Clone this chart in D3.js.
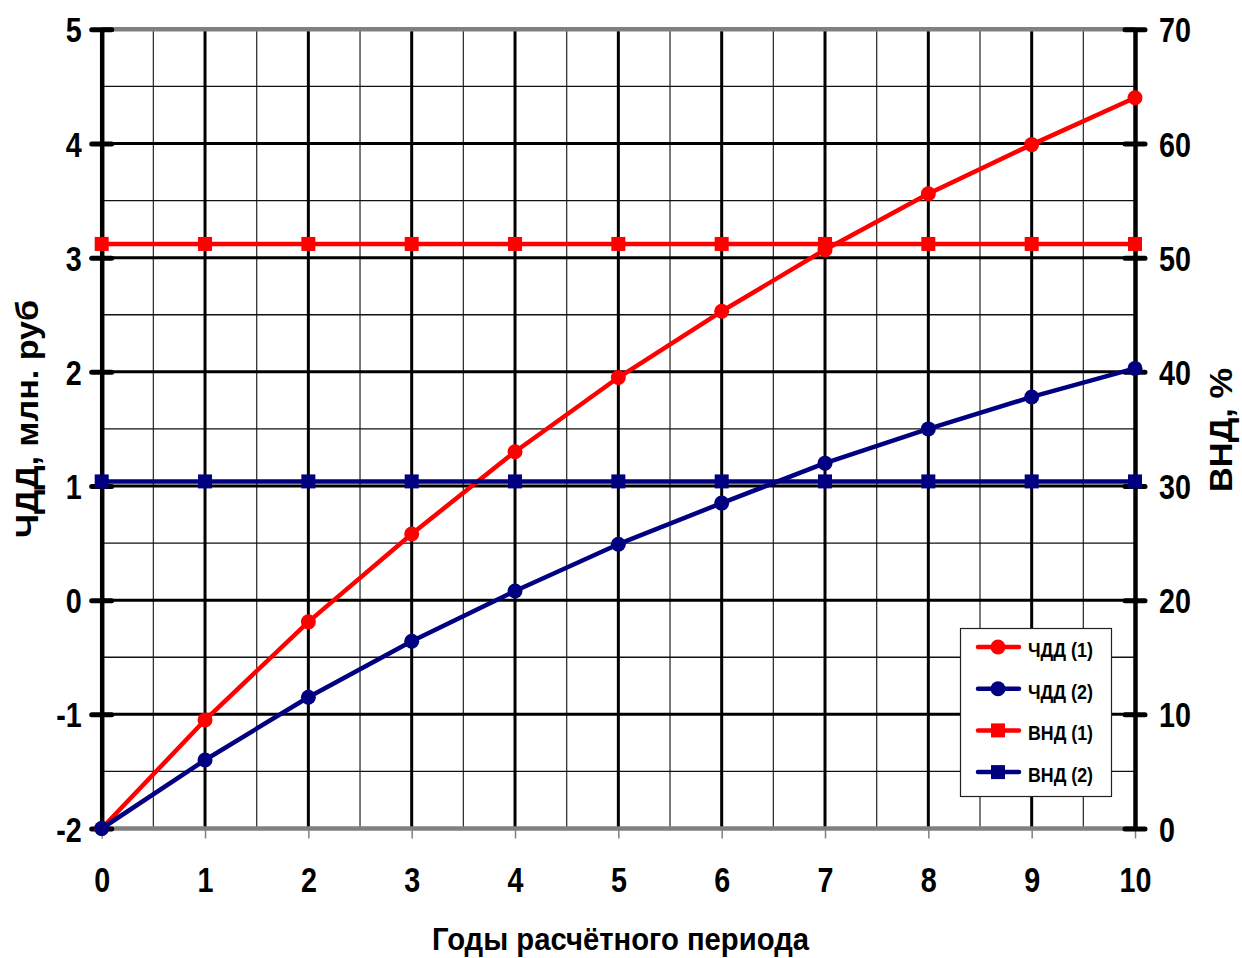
<!DOCTYPE html>
<html>
<head>
<meta charset="utf-8">
<script src="https://cdn.jsdelivr.net/npm/d3@7"></script>
<style>
  html, body { margin: 0; padding: 0; background: #fff; }
  svg, svg text { font-family: Arial, 'Liberation Sans', sans-serif !important; }
</style>
</head>
<body>
<svg id="chart" width="1242" height="958"></svg>
<script>
// Years of the calculation period
const years = [0, 1, 2, 3, 4, 5, 6, 7, 8, 9, 10];
// Net present value, mln rub (left axis)
const npv1 = [-2, -1.05, -0.19, 0.58, 1.30, 1.95, 2.53, 3.07, 3.56, 3.99, 4.40];
const npv2 = [-2, -1.40, -0.85, -0.36, 0.08, 0.49, 0.85, 1.20, 1.50, 1.78, 2.03];
// Internal rate of return, % (right axis)
const irr1 = [51.2, 51.2, 51.2, 51.2, 51.2, 51.2, 51.2, 51.2, 51.2, 51.2, 51.2];
const irr2 = [30.4, 30.4, 30.4, 30.4, 30.4, 30.4, 30.4, 30.4, 30.4, 30.4, 30.4];
// Axis ticks
const leftTicks = [-2, -1, 0, 1, 2, 3, 4, 5];
const rightTicks = [0, 10, 20, 30, 40, 50, 60, 70];
const seriesNames = ["ЧДД (1)", "ЧДД (2)", "ВНД (1)", "ВНД (2)"];

const RED = "#ff0000", NAVY = "#000080";

const svg = d3.select("#chart");
const x = d3.scaleLinear().domain([0, 10]).range([101.7, 1135]);
const yL = d3.scaleLinear().domain([-2, 5]).range([828.5, 29.3]);
const yR = d3.scaleLinear().domain([0, 70]).range([828.5, 29.3]);
const plain = d => String(d);

// narrow the bold tick numerals horizontally
function condense(sel, k) {
  sel.each(function () {
    const w = this.getComputedTextLength();
    d3.select(this).attr("textLength", w * k).attr("lengthAdjust", "spacingAndGlyphs");
  });
}

const grid = svg.append("g");
// minor grid (half steps)
d3.range(0.5, 10, 1).forEach(v => {
  grid.append("line").attr("x1", x(v)).attr("x2", x(v))
    .attr("y1", yL(5)).attr("y2", yL(-2))
    .attr("stroke", "#333").attr("stroke-width", 1.3);
});
d3.range(-1.5, 5, 1).forEach(v => {
  grid.append("line").attr("x1", x(0)).attr("x2", x(10))
    .attr("y1", yL(v)).attr("y2", yL(v))
    .attr("stroke", "#111").attr("stroke-width", 1.3);
});
// major grid
d3.range(1, 10, 1).forEach(v => {
  grid.append("line").attr("x1", x(v)).attr("x2", x(v))
    .attr("y1", yL(5)).attr("y2", yL(-2))
    .attr("stroke", "#000").attr("stroke-width", 3);
});
d3.range(-1, 5, 1).forEach(v => {
  grid.append("line").attr("x1", x(0)).attr("x2", x(10))
    .attr("y1", yL(v)).attr("y2", yL(v))
    .attr("stroke", "#000").attr("stroke-width", 3);
});
// top and bottom borders
[5, -2].forEach(v => {
  grid.append("line").attr("x1", x(0)).attr("x2", x(10))
    .attr("y1", yL(v)).attr("y2", yL(v))
    .attr("stroke", "#808080").attr("stroke-width", 4.5);
});

const TICK_FS = 35, TICK_K = 0.82;

// Bottom axis (years)
const xAxis = d3.axisBottom(x).tickValues(years).tickFormat(plain).tickSize(10).tickSizeOuter(0).tickPadding(29);
const gx = svg.append("g").attr("transform", `translate(0,${yL(-2)})`).call(xAxis);
gx.attr("font-family", null);
gx.select(".domain").remove();
gx.selectAll(".tick line").attr("stroke", "#808080").attr("stroke-width", 1.5);
gx.selectAll(".tick text").attr("fill", "#000").attr("font-size", TICK_FS).attr("font-weight", "bold")
  .call(condense, TICK_K);

// Left axis
const yAxisL = d3.axisLeft(yL).tickValues(leftTicks).tickFormat(plain).tickSize(10).tickSizeOuter(0).tickPadding(10);
const gl = svg.append("g").attr("transform", `translate(${x(0)},0)`).call(yAxisL);
gl.attr("font-family", null);
gl.select(".domain").attr("stroke", "#000").attr("stroke-width", 4.5);
gl.selectAll(".tick line").attr("x1", 10).attr("x2", -10).attr("stroke", "#000").attr("stroke-width", 5).attr("stroke-linecap", "round");
gl.selectAll(".tick text").attr("fill", "#000").attr("font-size", TICK_FS).attr("font-weight", "bold").attr("dy", "0.36em")
  .call(condense, TICK_K);

// Right axis
const yAxisR = d3.axisRight(yR).tickValues(rightTicks).tickFormat(plain).tickSize(10).tickSizeOuter(0).tickPadding(14);
const gr = svg.append("g").attr("transform", `translate(${x(10)},0)`).call(yAxisR);
gr.attr("font-family", null);
gr.select(".domain").attr("stroke", "#000").attr("stroke-width", 4.5);
gr.selectAll(".tick line").attr("x1", -10).attr("x2", 10).attr("stroke", "#000").attr("stroke-width", 5).attr("stroke-linecap", "round");
gr.selectAll(".tick text").attr("fill", "#000").attr("font-size", TICK_FS).attr("font-weight", "bold").attr("dy", "0.36em")
  .call(condense, TICK_K);

// Axis titles
svg.append("text").attr("transform", `translate(38,419) rotate(-90)`)
  .attr("text-anchor", "middle").attr("font-size", 31).attr("font-weight", "bold")
  .attr("textLength", 238).attr("lengthAdjust", "spacingAndGlyphs")
  .text("ЧДД, млн. руб");
svg.append("text").attr("transform", `translate(1232,430) rotate(-90)`)
  .attr("text-anchor", "middle").attr("font-size", 31).attr("font-weight", "bold")
  .attr("textLength", 124).attr("lengthAdjust", "spacingAndGlyphs")
  .text("ВНД, %");
svg.append("text").attr("x", 432).attr("y", 950)
  .attr("font-size", 32).attr("font-weight", "bold")
  .attr("textLength", 377).attr("lengthAdjust", "spacingAndGlyphs")
  .text("Годы расчётного периода");

// Series
const series = [
  { name: seriesNames[0], values: npv1, y: yL, color: RED, shape: "circle" },
  { name: seriesNames[1], values: npv2, y: yL, color: NAVY, shape: "circle" },
  { name: seriesNames[2], values: irr1, y: yR, color: RED, shape: "square" },
  { name: seriesNames[3], values: irr2, y: yR, color: NAVY, shape: "square" }
];

function drawMarker(g, shape, cx, cy, color) {
  if (shape === "circle") {
    g.append("circle").attr("cx", cx).attr("cy", cy).attr("r", 7.5).attr("fill", color);
  } else {
    g.append("rect").attr("x", cx - 7).attr("y", cy - 7).attr("width", 14).attr("height", 14).attr("fill", color);
  }
}

const plot = svg.append("g");
series.forEach(s => {
  const line = d3.line().x((d, i) => x(years[i])).y(d => s.y(d));
  const g = plot.append("g");
  g.append("path").attr("d", line(s.values)).attr("fill", "none")
    .attr("stroke", s.color).attr("stroke-width", 4.5).attr("stroke-linejoin", "round");
  s.values.forEach((v, i) => drawMarker(g, s.shape, x(years[i]), s.y(v), s.color));
});

// Legend
const lg = svg.append("g");
lg.append("rect").attr("x", 960.5).attr("y", 628.5).attr("width", 151).attr("height", 168)
  .attr("fill", "#fff").attr("stroke", "#222").attr("stroke-width", 1.2);
series.forEach((s, i) => {
  const cy = 647 + i * 41.7;
  lg.append("line").attr("x1", 978).attr("x2", 1019).attr("y1", cy).attr("y2", cy)
    .attr("stroke", s.color).attr("stroke-width", 4.5).attr("stroke-linecap", "round");
  drawMarker(lg, s.shape, 998, cy, s.color);
  lg.append("text").attr("x", 1028).attr("y", cy + 10)
    .attr("font-size", 21).attr("font-weight", "bold")
    .attr("textLength", 65).attr("lengthAdjust", "spacingAndGlyphs")
    .text(s.name);
});
</script>
</body>
</html>
